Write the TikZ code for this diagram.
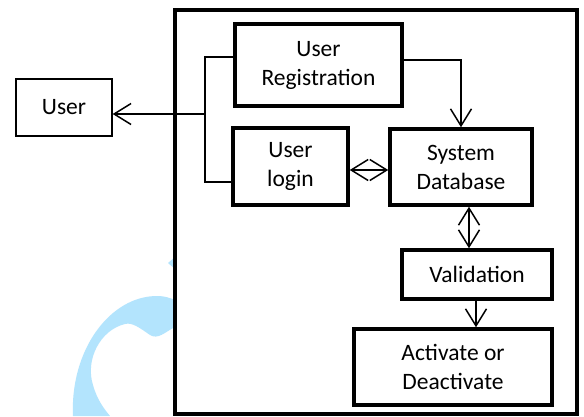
\documentclass[tikz,border=0pt]{standalone}
\usepackage{fontspec}
\setmainfont{Carlito}
\usetikzlibrary{arrows.meta}
\definecolor{wm}{HTML}{B3E4FD}
\begin{document}
\begin{tikzpicture}[x=1pt,y=-1pt,
  lbl/.style={font=\fontsize{23.5}{29}\selectfont,align=center,inner sep=0pt},
  thinbox/.style={lbl,draw,line width=1.3pt},
  thickbox/.style={lbl,draw,line width=3.5pt},
  conn/.style={line width=1.5pt},
  tip/.style={-{Straight Barb[length=17pt,width=21pt,line width=1.5pt]}},
  bitip/.style={{Straight Barb[length=17pt,width=21pt,line width=1.5pt]}-{Straight Barb[length=17pt,width=21pt,line width=1.5pt]}}]
\useasboundingbox (0,0) rectangle (584,416);
\fill[white] (0,0) rectangle (584,416);
% watermark
\fill[wm] (73,416) .. controls (70,350) and (110,296) .. (157,296)
  .. controls (165,296) and (170,298) .. (175,300) -- (175,327)
  .. controls (165,332) and (158,340) .. (150,335)
  .. controls (140,328) and (132,322) .. (125,324)
  .. controls (100,330) and (85,360) .. (93,385)
  .. controls (97,400) and (105,410) .. (110,416) -- cycle;
\fill[wm] (175,257) -- (168,263) -- (175,269) -- cycle;
% outer box
\draw[line width=4.5pt,fill=white] (175,10) rectangle (577,414);
\node[thinbox,minimum width=96pt,minimum height=57pt] (user) at (64,107.5) {User};
\node[thickbox,minimum width=167pt,minimum height=82pt] (reg) at (318.5,65) {User\\Registration};
\node[thickbox,minimum width=115pt,minimum height=77pt] (login) at (290.5,166.5) {User\\login};
\node[thickbox,minimum width=142pt,minimum height=76pt] (db) at (461,167) {System\\Database};
\node[thickbox,minimum width=150pt,minimum height=49pt] (val) at (477,274.5) {Validation};
\node[thickbox,minimum width=198pt,minimum height=76pt] (act) at (453,367) {Activate or\\Deactivate};
\coordinate (bt) at (205,57);
\coordinate (bb) at (205,182);
\coordinate (bm) at (205,114);
\coordinate (rc) at (461,60);
\draw[conn] (reg.west |- bt) -- (bt) -- (bb) -- (login.west |- bb);
\draw[conn,tip] (bm) -- (bm -| user.east);
\draw[conn,tip] (rc -| reg.east) -- (rc) -- (db.north);
\draw[conn,bitip] (login.east |- 0,170) -- (db.west |- 0,170);
\draw[conn,bitip] (db.south -| 469,0) -- (val.north -| 469,0);
\draw[conn,tip] (val.south -| 476,0) -- (act.north -| 476,0);
\end{tikzpicture}
\end{document}
